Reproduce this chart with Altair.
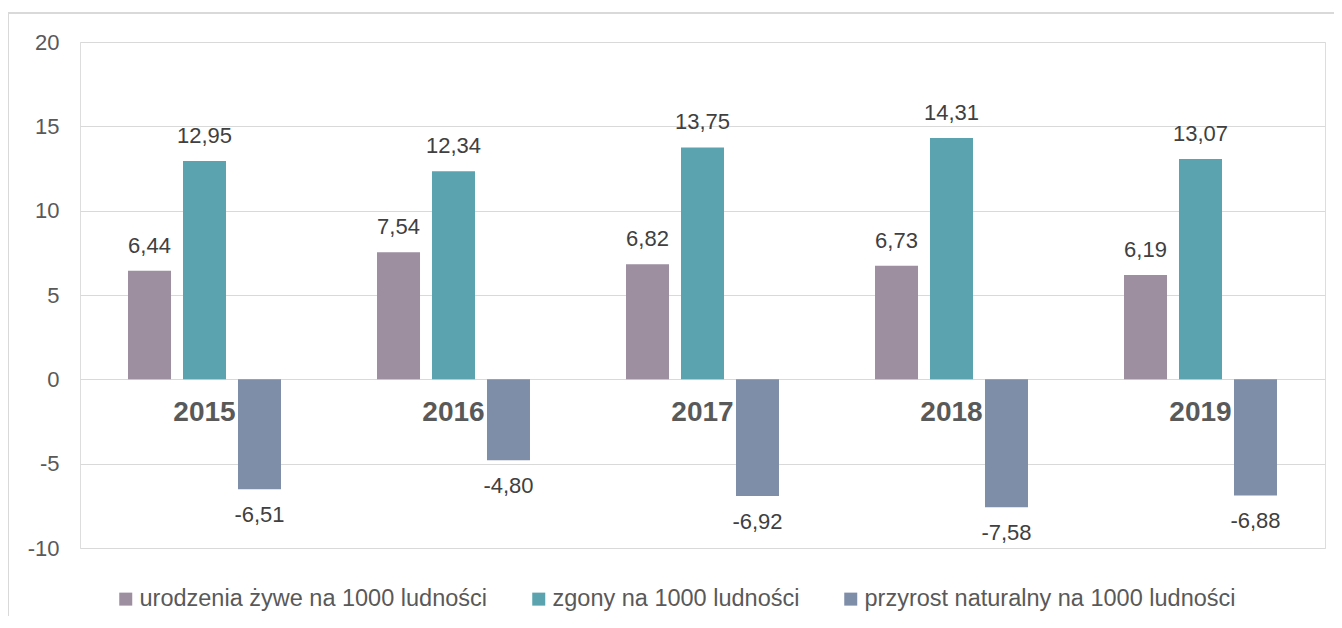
import altair as alt
import pandas as pd

years = ["2015", "2016", "2017", "2018", "2019"]
series = [
    "urodzenia żywe na 1000 ludności",
    "zgony na 1000 ludności",
    "przyrost naturalny na 1000 ludności",
]
births = [6.44, 7.54, 6.82, 6.73, 6.19]
deaths = [12.95, 12.34, 13.75, 14.31, 13.07]
growth = [-6.51, -4.80, -6.92, -7.58, -6.88]
colors = ["#9D8FA0", "#5BA3AE", "#7F8EA8"]
y_ticks = [-10, -5, 0, 5, 10, 15, 20]

rows = []
for i, yr in enumerate(years):
    for s, vals in zip(series, [births, deaths, growth]):
        rows.append({"year": yr, "series": s, "value": vals[i]})
df = pd.DataFrame(rows)
df_years = pd.DataFrame({"year": years, "zero": [0] * len(years)})

FONT = "Liberation Sans"

x_enc = alt.X("year:N", axis=None, sort=years,
              scale=alt.Scale(domain=years, paddingInner=0, paddingOuter=0))
xoff_enc = alt.XOffset("series:N",
                       scale=alt.Scale(domain=series, paddingInner=0.218, paddingOuter=0.873))
y_enc = alt.Y(
    "value:Q",
    scale=alt.Scale(domain=[-10, 20], nice=False),
    axis=alt.Axis(
        values=y_ticks, title=None, grid=True, gridColor="#d9d9d9", gridWidth=1,
        domain=False, ticks=False, labelFont=FONT, labelFontSize=22,
        labelColor="#595959", labelPadding=21, labelExpr="'' + datum.value",
    ),
)

base = alt.Chart(df)

bars = base.mark_bar().encode(
    x=x_enc,
    xOffset=xoff_enc,
    y=y_enc,
    color=alt.Color(
        "series:N",
        scale=alt.Scale(domain=series, range=colors),
        legend=alt.Legend(
            title=None, orient="none", legendX=34, legendY=545,
            direction="horizontal", symbolType="square", symbolSize=169,
            symbolStrokeWidth=0, labelFont=FONT, labelFontSize=23.5,
            labelColor="#595959", columnPadding=39, labelOffset=2,
            labelLimit=0,
        ),
    ),
)

label_calc = "replace(replace(format(datum.value, '.2f'), '.', ','), '\u2212', '-')"

pos_labels = base.transform_filter("datum.value >= 0").transform_calculate(
    label=label_calc
).mark_text(font=FONT, fontSize=22, color="#404040", baseline="middle", dy=-25).encode(
    x=x_enc, xOffset=xoff_enc, y="value:Q", text="label:N"
)

neg_labels = base.transform_filter("datum.value < 0").transform_calculate(
    label=label_calc
).mark_text(font=FONT, fontSize=22, color="#404040", baseline="middle", dy=26).encode(
    x=x_enc, xOffset=xoff_enc, y="value:Q", text="label:N"
)

year_labels = alt.Chart(df_years).mark_text(
    font=FONT, fontSize=28, fontWeight="bold", color="#595959", baseline="middle", dy=34
).encode(x=x_enc, y=alt.Y("zero:Q"), text="year:N")

border = alt.Chart(pd.DataFrame({"a": [0]})).mark_rect(
    fill="transparent", stroke="#d9d9d9", strokeWidth=2
).encode(
    x=alt.value(-72), x2=alt.value(1400), y=alt.value(-29), y2=alt.value(700)
)

chart = alt.layer(bars, pos_labels, neg_labels, year_labels, border).properties(
    width=1245, height=506,
    autosize=alt.AutoSizeParams(type="none"),
    padding={"left": 72, "top": 34, "right": 9, "bottom": 68},
).configure_view(stroke=None).configure(background="white")

chart.save("out.html", embed_options={"renderer": "svg", "actions": False})
